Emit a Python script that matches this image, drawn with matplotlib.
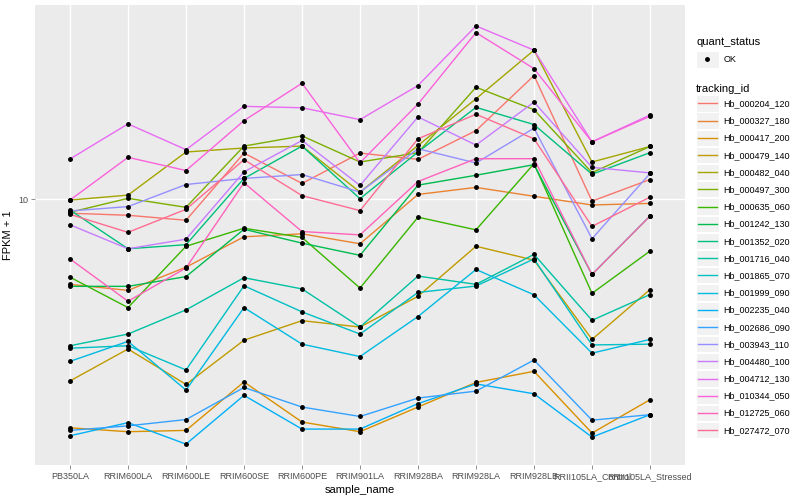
import numpy as np
import matplotlib.pyplot as plt
from matplotlib.lines import Line2D
from matplotlib.patches import Rectangle
from matplotlib.legend_handler import HandlerBase

plt.rcParams['font.family'] = ['Liberation Sans', 'DejaVu Sans']

# samples on the x axis
samples = ["PB350LA", "RRIM600LA", "RRIM600LE", "RRIM600SE", "RRIM600PE", "RRIM901LA",
           "RRIM928BA", "RRIM928LA", "RRIM928LB", "RRII105LA_Control", "RRII105LA_Stressed"]

# FPKM per tracking id
hb_000204_120 = [8.23, 8.12, 7.86, 12.08, 9.97, 12.08, 11.61, 13.90, 19.50, 8.90, 10.22]
hb_000327_180 = [5.11, 4.90, 5.75, 7.05, 7.19, 6.73, 9.29, 9.72, 9.18, 8.68, 8.77]
hb_000417_200 = [1.66, 1.60, 1.62, 2.47, 1.75, 1.60, 2.00, 2.46, 2.69, 1.58, 2.13]
hb_000479_140 = [2.49, 3.20, 2.42, 3.42, 3.95, 3.77, 4.70, 6.62, 6.03, 3.44, 4.93]
hb_000482_040 = [8.96, 9.25, 12.16, 12.47, 12.62, 9.43, 12.67, 16.92, 22.75, 11.42, 12.59]
hb_000497_300 = [8.28, 9.06, 8.55, 12.62, 13.45, 11.42, 12.11, 18.16, 15.82, 10.68, 12.59]
hb_000635_060 = [5.37, 4.34, 6.62, 7.46, 7.02, 4.98, 8.02, 7.38, 11.30, 4.80, 6.41]
hb_001242_130 = [5.04, 5.04, 5.39, 7.41, 6.76, 6.23, 9.86, 10.50, 11.23, 5.47, 8.08]
hb_001352_020 = [8.40, 6.51, 6.69, 10.29, 12.62, 9.04, 12.16, 16.05, 14.43, 10.57, 12.11]
hb_001716_040 = [3.28, 3.58, 4.27, 5.35, 4.95, 3.77, 5.41, 5.11, 6.27, 3.96, 4.76]
hb_001865_070 = [3.22, 3.28, 2.72, 5.06, 4.21, 3.58, 4.83, 5.05, 6.08, 3.30, 3.32]
hb_001999_090 = [2.91, 3.39, 2.31, 4.34, 3.32, 3.02, 4.07, 5.66, 4.75, 3.10, 3.44]
hb_002235_040 = [1.54, 1.74, 1.42, 2.21, 1.64, 1.64, 2.06, 2.43, 2.24, 1.52, 1.87]
hb_002686_090 = [1.62, 1.69, 1.79, 2.36, 2.00, 1.84, 2.16, 2.29, 2.94, 1.78, 1.87]
hb_003943_110 = [8.35, 8.59, 9.90, 10.29, 10.55, 9.43, 12.41, 11.35, 14.11, 6.96, 10.62]
hb_004480_100 = [7.63, 6.51, 6.94, 10.73, 13.07, 9.84, 15.13, 12.70, 16.58, 11.04, 10.66]
hb_004712_130 = [11.64, 14.49, 12.34, 16.15, 16.01, 14.88, 18.35, 26.34, 22.75, 12.96, 15.31]
hb_010344_050 = [8.96, 11.76, 10.82, 14.79, 18.61, 11.37, 16.38, 25.30, 20.34, 12.96, 15.19]
hb_012725_060 = [6.08, 4.54, 5.72, 10.01, 7.30, 7.14, 10.09, 11.66, 11.66, 5.47, 8.08]
hb_027472_070 = [8.17, 7.26, 8.44, 11.59, 9.22, 8.37, 13.21, 15.38, 13.21, 7.55, 9.13]

tracking_ids = ["Hb_000204_120", "Hb_000327_180", "Hb_000417_200", "Hb_000479_140",
                "Hb_000482_040", "Hb_000497_300", "Hb_000635_060", "Hb_001242_130",
                "Hb_001352_020", "Hb_001716_040", "Hb_001865_070", "Hb_001999_090",
                "Hb_002235_040", "Hb_002686_090", "Hb_003943_110", "Hb_004480_100",
                "Hb_004712_130", "Hb_010344_050", "Hb_012725_060", "Hb_027472_070"]
series = [hb_000204_120, hb_000327_180, hb_000417_200, hb_000479_140, hb_000482_040,
          hb_000497_300, hb_000635_060, hb_001242_130, hb_001352_020, hb_001716_040,
          hb_001865_070, hb_001999_090, hb_002235_040, hb_002686_090, hb_003943_110,
          hb_004480_100, hb_004712_130, hb_010344_050, hb_012725_060, hb_027472_070]

# ggplot hue palette, 20 levels
colors = ["#F8766D", "#EA8331", "#D89000", "#C09B00", "#A3A500", "#7CAE00", "#39B600",
          "#00BB4E", "#00BF7D", "#00C1A3", "#00BFC4", "#00BAE0", "#00B0F6", "#35A2FF",
          "#9590FF", "#C77CFF", "#E76BF3", "#FA62DB", "#FF62BC", "#FF6C91"]


class KeyHandler(HandlerBase):
    # grey key box with a coloured line, like ggplot legends
    def create_artists(self, legend, orig_handle, xdescent, ydescent, width, height,
                       fontsize, trans):
        bg = Rectangle((-xdescent, -ydescent), width, height, facecolor="#F2F2F2",
                       edgecolor="white", lw=0.8, transform=trans)
        art = [bg]
        y = -ydescent + height / 2
        if orig_handle.get_linestyle() not in ("None", "none", ""):
            art.append(Line2D([-xdescent + 1.5, -xdescent + width - 1.5], [y, y],
                              color=orig_handle.get_color(), lw=1.0, transform=trans))
        if orig_handle.get_marker() not in ("None", "none", "", None):
            art.append(Line2D([-xdescent + width / 2], [y], marker="o", ms=2.5,
                              color="black", ls="none", transform=trans))
        return art


def main():
    fig = plt.figure(figsize=(8, 5), dpi=100)
    ax = fig.add_axes([0.044, 0.07, 0.812, 0.92])
    ax.set_facecolor("#EBEBEB")

    x = np.arange(len(samples))
    for vals, col in zip(series, colors):
        ax.plot(x, np.array(vals) + 1, color=col, lw=1.0, zorder=2)
    for vals in series:
        ax.plot(x, np.array(vals) + 1, ls="none", marker="o", ms=2.5, color="black", zorder=3)

    ax.set_yscale("log")
    allv = np.log10(np.concatenate(series) + 1)
    lo, hi = allv.min(), allv.max()
    pad = (hi - lo) * 0.05
    ax.set_ylim(10 ** (lo - pad), 10 ** (hi + pad))
    ax.set_xlim(-0.6, len(samples) - 0.4)

    ax.set_yticks([10])
    ax.set_yticklabels(["10"])
    ax.yaxis.set_minor_locator(plt.NullLocator())
    ax.set_xticks(x)
    ax.set_xticklabels(samples)
    ax.tick_params(axis="both", length=3, width=0.6, color="#7F7F7F", labelcolor="#4D4D4D",
                   labelsize=6.5, pad=2)
    ax.grid(True, color="white", lw=1.0, zorder=0)
    ax.set_axisbelow(True)
    for s in ax.spines.values():
        s.set_visible(False)

    ax.set_xlabel("sample_name", fontsize=8, labelpad=3)
    ax.set_ylabel("FPKM + 1", fontsize=8, labelpad=4)

    # legends
    h_ok = [Line2D([], [], ls="none", marker="o", color="black")]
    leg1 = fig.legend(h_ok, ["OK"], title="quant_status", loc="upper left",
                      bbox_to_anchor=(0.868, 0.93), frameon=False, fontsize=6.5,
                      title_fontsize=8, handler_map={Line2D: KeyHandler()},
                      handlelength=2.5, handleheight=2.4, handletextpad=0.5,
                      borderpad=0.2, borderaxespad=0)
    leg1._legend_box.align = "left"

    h_ids = [Line2D([], [], color=c, lw=1.0) for c in colors]
    leg2 = fig.legend(h_ids, tracking_ids, title="tracking_id", loc="upper left",
                      bbox_to_anchor=(0.868, 0.835), frameon=False, fontsize=6.5,
                      title_fontsize=8, handler_map={Line2D: KeyHandler()},
                      handlelength=2.5, handleheight=2.4, handletextpad=0.5,
                      labelspacing=0.1, borderpad=0.2, borderaxespad=0)
    leg2._legend_box.align = "left"

    fig.savefig("out.png", dpi=100, facecolor="white")


if __name__ == "__main__":
    main()
